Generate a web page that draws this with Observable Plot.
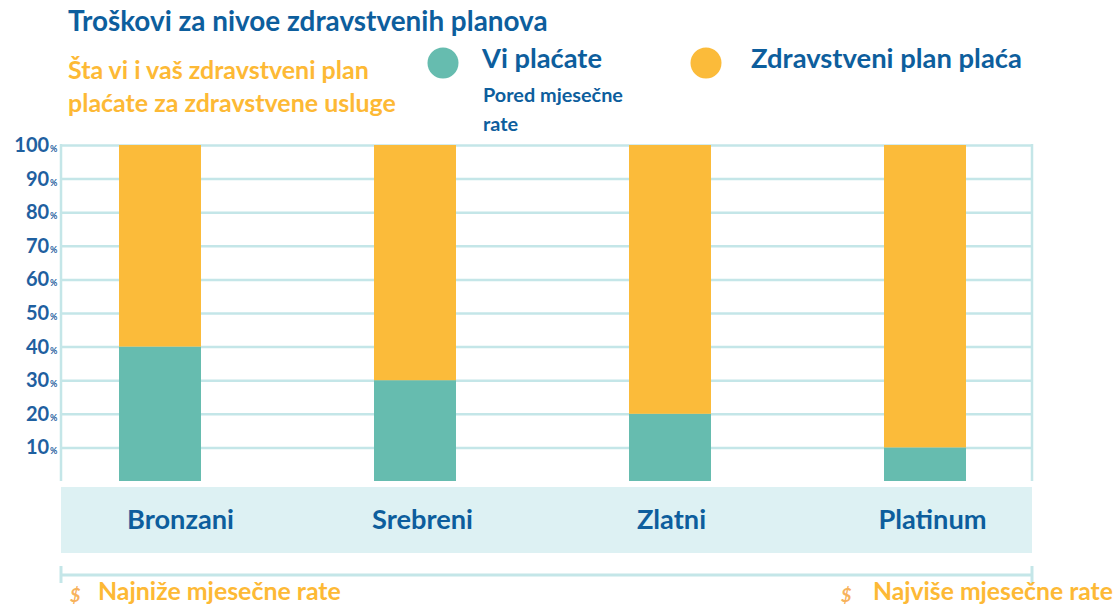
<!DOCTYPE html>
<html>
<head>
<meta charset="utf-8">
<script src="https://cdn.jsdelivr.net/npm/d3@7"></script>
<script src="https://cdn.jsdelivr.net/npm/@observablehq/plot@0.6"></script>
<style>
  html, body { margin: 0; padding: 0; background: #fff; }
  #wrap { position: relative; width: 1119px; height: 605px; overflow: hidden; font-family: Lato, "Open Sans", sans-serif; }
  #chart { position: absolute; left: 0; top: 0; }
  #overlay { position: absolute; left: 0; top: 0; pointer-events: none; }
</style>
</head>
<body>
<div id="wrap">
  <div id="chart"></div>
  <svg id="overlay" width="1119" height="605"></svg>
</div>
<script>
// ---- data ----
const plans = ["Bronzani", "Srebreni", "Zlatni", "Platinum"];
const youPay = [40, 30, 20, 10];
const planPays = [60, 70, 80, 90];
const seriesNames = ["Vi plaćate", "Zdravstveni plan plaća"];
const yTicks = [10, 20, 30, 40, 50, 60, 70, 80, 90, 100];
const titleText = "Troškovi za nivoe zdravstvenih planova";
const subtitleLines = ["Šta vi i vaš zdravstveni plan", "plaćate za zdravstvene usluge"];
const legendNote = ["Pored mjesečne", "rate"];
const lowNote = "Najniže mjesečne rate";
const highNote = "Najviše mjesečne rate";

// ---- styles ----
const teal = "#66bcaf";
const yellow = "#fbbb3a";
const grid = "#c4e6e8";
const band = "#ddf1f3";
const blue = "#0d5e9d";
const orange = "#fdb935";
const labelNudge = {Bronzani: 20, Srebreni: 7, Zlatni: 1, Platinum: 7};

const data = plans.flatMap((p, i) => [
  {plan: p, who: seriesNames[0], value: youPay[i]},
  {plan: p, who: seriesNames[1], value: planPays[i]}
]);

const W = 1119, H = 605, mL = 61, mR = 87, mT = 145, mB = 124;

const chart = Plot.plot({
  width: W, height: H,
  marginTop: mT, marginBottom: mB, marginLeft: mL, marginRight: mR,
  style: {background: "transparent", fontFamily: "Lato, 'Open Sans', sans-serif", overflow: "visible"},
  x: {domain: plans, paddingInner: 0.68, paddingOuter: 0, insetLeft: 57, insetRight: 65, label: null},
  y: {domain: [0, 100], label: null},
  color: {domain: seriesNames, range: [teal, yellow]},
  marks: [
    Plot.ruleY(yTicks, {stroke: grid, strokeWidth: 2.5}),
    Plot.barY(data, {x: "plan", y: "value", fill: "who"}),
    Plot.axisY(yTicks, {tickSize: 0, tickPadding: 4, tickFormat: d => d + "%", fontSize: 20, fontWeight: "bold", color: "#1f60a0"}),
    Plot.axisX({tickSize: 0, tickPadding: 28, fontSize: 22, fontWeight: "bold", color: blue})
  ]
});
document.getElementById("chart").append(chart);

// ---- decorations inside the plot svg ----
const svg = d3.select(chart);
const ys = chart.scale("y");
const y0 = ys.apply(0), y100 = ys.apply(100);
const left = mL, right = W - mR;

svg.insert("rect", ":first-child")
  .attr("x", left).attr("y", y0 + 6)
  .attr("width", right - left).attr("height", 66)
  .attr("fill", band);

const frameG = svg.insert("g", ":nth-child(2)");
[left, right].forEach(x => {
  frameG.append("line").attr("x1", x).attr("x2", x).attr("y1", y100 - 1).attr("y2", y0)
    .attr("stroke", grid).attr("stroke-width", 2.5);
});

// bottom range line with end ticks
const by = y0 + 94;
const bl = svg.append("g").attr("stroke", grid).attr("stroke-width", 3);
bl.append("line").attr("x1", left).attr("x2", right).attr("y1", by).attr("y2", by);
bl.append("line").attr("x1", left).attr("x2", left).attr("y1", by - 9).attr("y2", by + 8);
bl.append("line").attr("x1", right).attr("x2", right).attr("y1", by - 9).attr("y2", by + 8);

// scale a group's font so that one label reaches a target width
function fitGroup(groupSel, sampleText, target) {
  const texts = groupSel.selectAll("text");
  let sample = null;
  texts.each(function() { if (this.textContent === sampleText) sample = this; });
  if (!sample) return;
  const fs = parseFloat(getComputedStyle(sample).fontSize) || 16;
  const w = sample.getComputedTextLength();
  if (w > 0) {
    const nfs = fs * target / w;
    groupSel.attr("font-size", nfs);
    texts.attr("font-size", nfs);
  }
}
const yLab = svg.select("g[aria-label='y-axis tick label']");
const xLab = svg.select("g[aria-label='x-axis tick label']");
fitGroup(xLab, "Bronzani", 107);
xLab.selectAll("text").each(function() {
  const n = labelNudge[this.textContent] || 0;
  d3.select(this).attr("dx", n);
});

// small % sign on y tick labels
yLab.selectAll("text").each(function() {
  const t = d3.select(this);
  const s = t.text();
  if (s.endsWith("%")) {
    t.text(s.slice(0, -1));
    t.append("tspan").attr("font-size", 9).attr("dx", 1).text("%");
  }
});

function fit(sel, target) {
  const node = sel.node();
  const fs = parseFloat(sel.attr("font-size")) || 20;
  const w = node.getComputedTextLength();
  if (w > 0) sel.attr("font-size", fs * target / w);
}

// ---- overlay annotations ----
const ov = d3.select("#overlay").attr("font-family", "Lato, 'Open Sans', sans-serif").attr("font-weight", "bold");
const defs = ov.append("defs");
defs.append("clipPath").attr("id", "subclip").append("rect").attr("x", 0).attr("y", 0).attr("width", 500).attr("height", 118);

function txt(parent, s, x, y, size, fill, target) {
  const t = parent.append("text").attr("x", x).attr("y", y).attr("font-size", size).attr("fill", fill).text(s);
  if (target) fit(t, target);
  return t;
}
txt(ov, titleText, 68, 31, 22, blue, 480);
const sub = ov.append("g").attr("clip-path", "url(#subclip)");
txt(sub, subtitleLines[0], 68, 79, 20, orange, 301);
txt(sub, subtitleLines[1], 68, 112, 20, orange, 328);

ov.append("circle").attr("cx", 443).attr("cy", 63).attr("r", 15.5).attr("fill", teal);
ov.append("circle").attr("cx", 706).attr("cy", 63).attr("r", 15.5).attr("fill", yellow);
txt(ov, seriesNames[0], 482, 68, 24, blue, 120);
txt(ov, seriesNames[1], 751, 68, 24, blue, 271);
const poredT = txt(ov, legendNote[0], 483, 102, 15, blue, 140);
txt(ov, legendNote[1], 483, 131, poredT.attr("font-size"), blue);

txt(ov, "$", 70, 602, 18, "#f7b25c").attr("font-style", "italic");
txt(ov, lowNote, 98, 600, 21, orange, 243);
txt(ov, "$", 841, 602, 18, "#f7b25c").attr("font-style", "italic");
txt(ov, highNote, 873, 600, 21, orange, 240);
</script>
</body>
</html>
